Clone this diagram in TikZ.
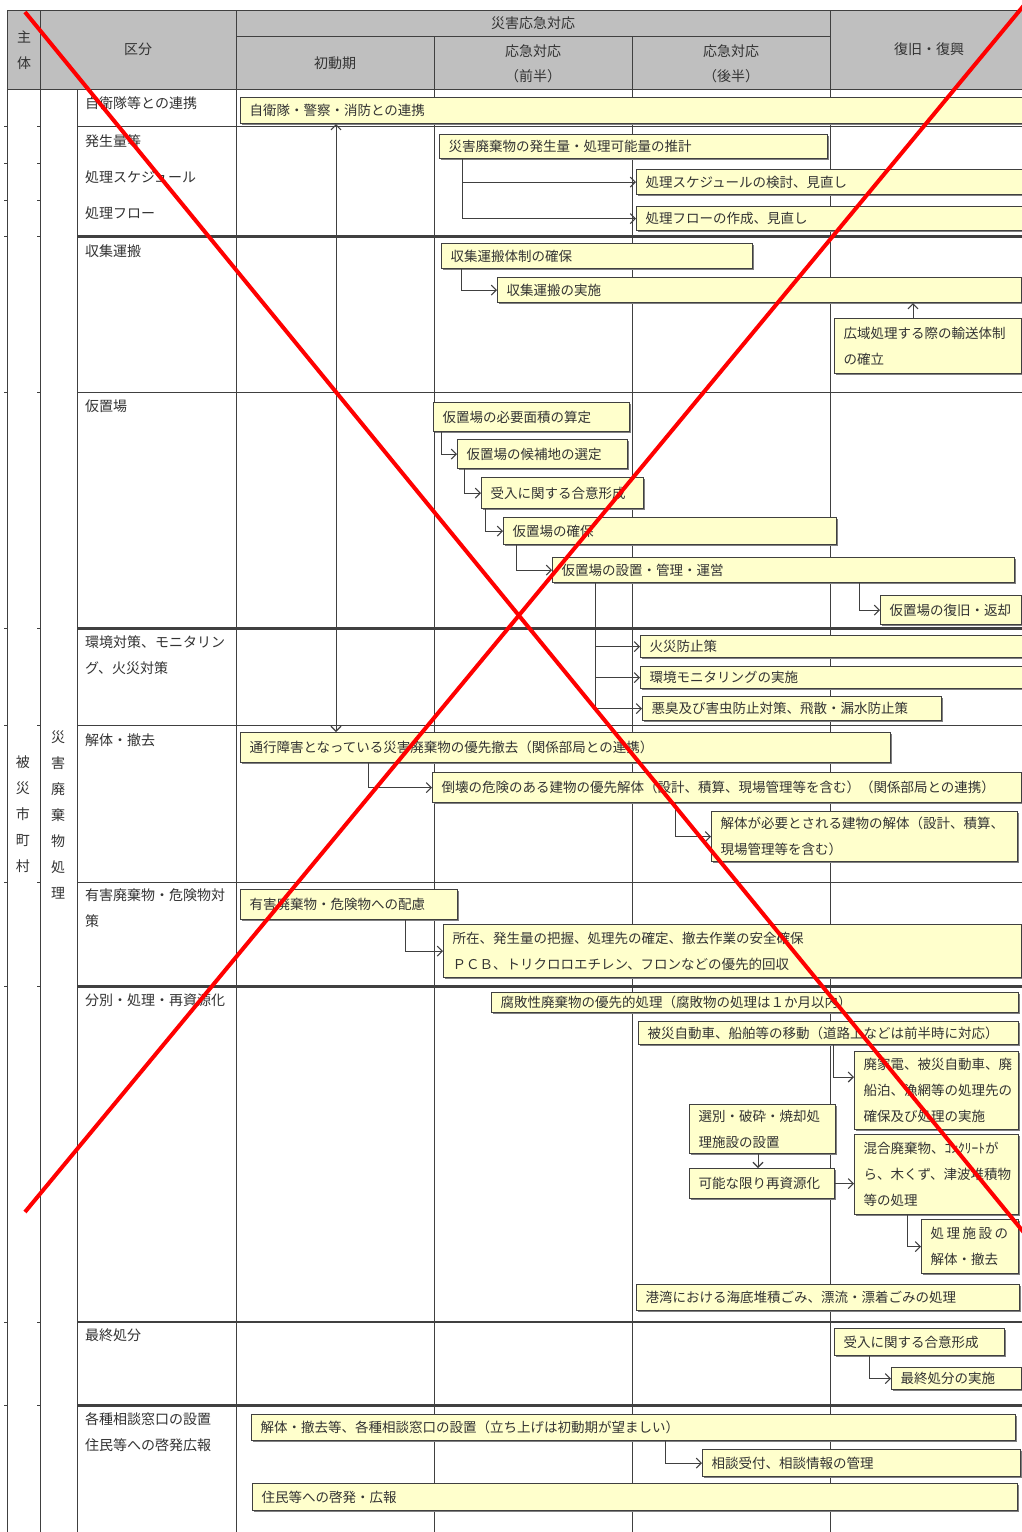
\documentclass[tikz,border=0pt]{standalone}
\usepackage{fontspec}
\setmainfont{Noto Sans CJK JP}
\usetikzlibrary{arrows.meta,shadows}
\definecolor{hdr}{HTML}{BFBFBF}
\definecolor{ylw}{HTML}{FFFFCC}
\definecolor{ln}{HTML}{404040}
\definecolor{tx}{HTML}{333333}
\newcommand\ybx[6]{%
  \pgfmathsetmacro\ybxw{#4-#2-18}%
  \pgfmathsetmacro\ybxh{#5-#3}%
  \node[ybox, text width=\ybxw pt, minimum height=\ybxh pt, anchor=north west] (#1) at (#2,#3) {#6};}
\begin{document}
\begin{tikzpicture}[x=1pt,y=-1pt,
  ybox/.style={draw=ln, line width=1.1pt, fill=ylw, align=left, inner xsep=9pt, inner ysep=0pt,
    font=\fontsize{13.5}{26}\selectfont, text=tx,
    drop shadow={shadow xshift=1.3pt, shadow yshift=-1.3pt, fill=black!50, opacity=1}},
  lab/.style={inner sep=0pt, font=\fontsize{14}{26.5}\selectfont, text=tx, align=left},
  hd/.style={inner sep=0pt, font=\fontsize{14}{25}\selectfont, text=tx, align=center},
  vt/.style={inner sep=0pt, font=\fontsize{14}{26}\selectfont, text=tx, align=center},
  grid/.style={draw=ln, line width=1pt},
  hgrid/.style={draw=ln, line width=2.4pt},
  arr/.style={draw=ln, line width=1pt, -{Straight Barb[length=5pt,width=10pt,line width=1.1pt]}},
  arrb/.style={draw=ln, line width=1pt, {Straight Barb[length=5pt,width=10pt,line width=1.1pt]}-{Straight Barb[length=5pt,width=10pt,line width=1.1pt]}},
  redx/.style={draw=red, line width=4pt}
]
\useasboundingbox (0,0) rectangle (1022,1532);
\clip (0,0) rectangle (1022,1532);
\fill[white] (0,0) rectangle (1022,1532);
% header
\fill[hdr] (7,10) rectangle (1030,89);
\draw[grid] (7,10) -- (1030,10);
\draw[grid] (236,36) -- (830,36);
\draw[grid] (7,89) -- (1030,89);
\draw[grid] (7,10) -- (7,1540);
\draw[grid] (40,10) -- (40,1540);
\draw[grid] (77,89) -- (77,1540);
\draw[grid] (236,10) -- (236,1540);
\draw[grid] (434,36) -- (434,1540);
\draw[grid] (632,36) -- (632,1540);
\draw[grid] (830,10) -- (830,1540);
% row lines
\foreach \yy in {126,392,725,882} { \draw[grid] (77,\yy) -- (1030,\yy); }
\foreach \yy in {236.5,628.5,986.5,1322,1405.5} { \draw[hgrid] (77,\yy) -- (1030,\yy); }
\foreach \yy in {126,163,200,236,392,628,725,882,986,1322,1405} {
  \draw[grid] (4,\yy) -- (7,\yy); \draw[grid] (37,\yy) -- (40,\yy); }
% header text
\node[hd] (hshu) at (24,37) {主};
\node[hd] (htai) at (24,63) {体};
\node[hd] (hkubun) at (138,49) {区分};
\node[hd] (hsaigai) at (533,23) {災害応急対応};
\node[hd] (hshodo) at (335,63) {初動期};
\node[hd] (hzen) at (533,64) {応急対応\\（前半）};
\node[hd] (hkou) at (731,64) {応急対応\\（後半）};
\node[hd] (hfukkyu) at (929,49) {復旧・復興};
% left vertical text
\node[vt] (vhisai) at (23,814) {被\\災\\市\\町\\村};
\node[vt] (vshori) at (58,815) {災\\害\\廃\\棄\\物\\処\\理};
% category labels
\node[lab, anchor=west] (c1) at (85,103) {自衛隊等との連携};
\node[lab, anchor=west] (c2a) at (85,141) {発生量等};
\node[lab, anchor=west] (c2b) at (85,177) {処理スケジュール};
\node[lab, anchor=west] (c2c) at (85,213) {処理フロー};
\node[lab, anchor=west] (c3) at (85,251) {収集運搬};
\node[lab, anchor=west] (c4) at (85,406) {仮置場};
\node[lab, anchor=north west] (c5) at (85,635) {環境対策、モニタリン\\グ、火災対策};
\node[lab, anchor=west] (c6) at (85,740) {解体・撤去};
\node[lab, anchor=north west] (c7) at (85,888) {有害廃棄物・危険物対\\策};
\node[lab, anchor=west] (c8) at (85,1000) {分別・処理・再資源化};
\node[lab, anchor=west] (c9) at (85,1335) {最終処分};
\node[lab, anchor=north west] (c10) at (85,1412) {各種相談窓口の設置\\住民等への啓発広報};
% boxes
\ybx{a1}{240}{97}{1034}{123}{自衛隊・警察・消防との連携}
\ybx{g1}{439}{134}{827}{158}{災害廃棄物の発生量・処理可能量の推計}
\ybx{g2}{636}{169}{1034}{194}{処理スケジュールの検討、見直し}
\ybx{g3}{636}{206}{1034}{230}{処理フローの作成、見直し}
\ybx{s1}{441}{243}{752}{268}{収集運搬体制の確保}
\ybx{s2}{497}{277}{1021}{302}{収集運搬の実施}
\ybx{s3}{834}{318}{1021}{373}{広域処理する際の輸送体制\\の確立}
\ybx{k1}{433}{402}{629}{431}{仮置場の必要面積の算定}
\ybx{k2}{457}{439}{627}{468}{仮置場の候補地の選定}
\ybx{k3}{481}{477}{643}{508}{受入に関する合意形成}
\ybx{k4}{503}{517}{836}{544}{仮置場の確保}
\ybx{k5}{552}{557}{1014}{582}{仮置場の設置・管理・運営}
\ybx{k6}{880}{595}{1021}{624}{仮置場の復旧・返却}
\ybx{e1}{640}{635}{1034}{657}{火災防止策}
\ybx{e2}{640}{666}{1034}{688}{環境モニタリングの実施}
\ybx{e3}{642}{696}{941}{720}{悪臭及び害虫防止対策、飛散・漏水防止策}
\ybx{d1}{240}{732}{890}{762}{通行障害となっている災害廃棄物の優先撤去（関係部局との連携）}
\ybx{d2}{432}{772}{1021}{802}{倒壊の危険のある建物の優先解体（設計、積算、現場管理等を含む）（関係部局との連携）}
\ybx{d3}{711}{811}{1017}{861}{解体が必要とされる建物の解体（設計、積算、\\現場管理等を含む）}
\ybx{h1}{240}{889}{457}{919}{有害廃棄物・危険物への配慮}
\ybx{h2}{443}{924}{1021}{977}{所在、発生量の把握、処理先の確定、撤去作業の安全確保\\ＰＣＢ、トリクロロエチレン、フロンなどの優先的回収}
\ybx{b1}{491}{992}{1018}{1012}{腐敗性廃棄物の優先的処理（腐敗物の処理は１か月以内）}
\ybx{b2}{638}{1021}{1018}{1044}{被災自動車、船舶等の移動（道路上などは前半時に対応）}
\ybx{b3}{854}{1051}{1018}{1129}{廃家電、被災自動車、廃\\船泊、漁網等の処理先の\\確保及び処理の実施}
\ybx{b4}{689}{1104}{835}{1153}{選別・破砕・焼却処\\理施設の設置}
\ybx{b5}{689}{1168}{834}{1198}{可能な限り再資源化}
\ybx{b6}{854}{1134}{1018}{1214}{混合廃棄物、ｺﾝｸﾘｰﾄが\\ら、木くず、津波堆積物\\等の処理}
\ybx{b7}{921}{1219}{1018}{1273}{\mbox{処\hspace{2.5pt}理\hspace{2.5pt}施\hspace{2.5pt}設\hspace{2.5pt}の}\\解体・撤去}
\ybx{b8}{636}{1284}{1019}{1310}{港湾における海底堆積ごみ、漂流・漂着ごみの処理}
\ybx{f1}{834}{1328}{1004}{1355}{受入に関する合意形成}
\ybx{f2}{891}{1367}{1021}{1389}{最終処分の実施}
\ybx{m1}{251}{1414}{1015}{1440}{解体・撤去等、各種相談窓口の設置（立ち上げは初動期が望ましい）}
\ybx{m2}{702}{1449}{1020}{1476}{相談受付、相談情報の管理}
\ybx{m3}{252}{1483}{1017}{1510}{住民等への啓発・広報}
% trunk coordinates
\coordinate (x336) at (336,0);
\coordinate (x462) at (462,0);
\coordinate (x461) at (461,0);
\coordinate (x913) at (913,0);
\coordinate (x441) at (441,0);
\coordinate (x464) at (464,0);
\coordinate (x485) at (485,0);
\coordinate (x516) at (516,0);
\coordinate (x859) at (859,0);
\coordinate (x595) at (595,0);
\coordinate (x368) at (368,0);
\coordinate (x675) at (675,0);
\coordinate (x405) at (405,0);
\coordinate (e24) at (833,1077);
\coordinate (x758) at (758,0);
\coordinate (x907) at (907,0);
\coordinate (x869) at (869,0);
\coordinate (x665) at (665,0);
% connectors
\draw[arrb] (a1.south -| x336) -- (d1.north -| x336);
\draw[arr] (g1.south -| x462) |- (g2.west);
\draw[arr] (g1.south -| x462) |- (g3.west);
\draw[arr] (s1.south -| x461) |- (s2.west);
\draw[arr] (s3.north -| x913) -- (s2.south -| x913);
\draw[arr] (k1.south -| x441) |- (k2.west);
\draw[arr] (k2.south -| x464) |- (k3.west);
\draw[arr] (k3.south -| x485) |- (k4.west);
\draw[arr] (k4.south -| x516) |- (k5.west);
\draw[arr] (k5.south -| x859) |- (k6.west);
\draw[arr] (k5.south -| x595) |- (e1.west);
\draw[arr] (k5.south -| x595) |- (e2.west);
\draw[arr] (k5.south -| x595) |- (e3.west);
\draw[arr] (d1.south -| x368) |- (d2.west);
\draw[arr] (d2.south -| x675) |- (d3.west);
\draw[arr] (h1.south -| x405) |- (h2.west);
\draw[arr] (b2.south -| e24) -- (e24) -- (e24 -| b3.west);
\draw[arr] (b4.south -| x758) -- (b5.north -| x758);
\draw[arr] (b5.east) -- (b5.east -| b6.west);
\draw[arr] (b6.south -| x907) |- (b7.west);
\draw[arr] (f1.south -| x869) |- (f2.west);
\draw[arr] (m1.south -| x665) |- (m2.west);
% red cross
\coordinate (r1) at (25,12);
\coordinate (r2) at (1030,1240);
\coordinate (r3) at (25,1212);
\coordinate (r4) at (1030,-2);
\draw[redx] (r1) -- (r2);
\draw[redx] (r3) -- (r4);
\end{tikzpicture}
\end{document}
